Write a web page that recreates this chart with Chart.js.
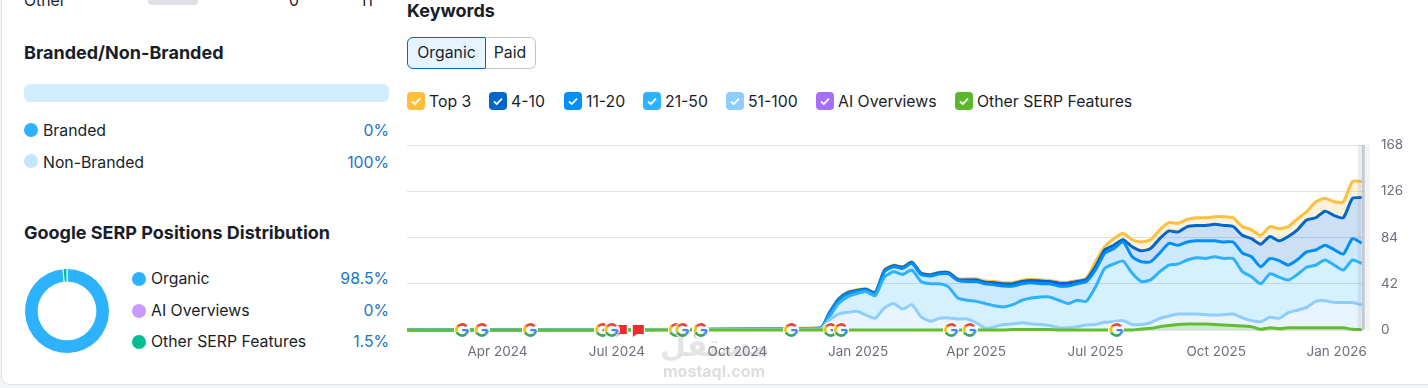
<!DOCTYPE html>
<html>
<head>
<meta charset="utf-8">
<script src="https://cdn.jsdelivr.net/npm/chart.js@4/dist/chart.umd.min.js"></script>
<style>
html, body { margin: 0; padding: 0; width: 1428px; height: 388px; overflow: hidden; background: #f4f5f9; font-family: Inter, sans-serif; color: #181e29; }
#card { position: absolute; left: 2px; top: -20px; width: 1500px; height: 404px; background: #fff; border-radius: 8px; box-shadow: 0 0 0 1px #e0e1e9; }
.t { position: absolute; white-space: nowrap; font-size: 15.8px; line-height: 20px; }
.h { position: absolute; white-space: nowrap; font-size: 18px; line-height: 24px; font-weight: 700; }
.v { position: absolute; right: 1039px; white-space: nowrap; font-size: 15.8px; line-height: 20px; color: #1a73c9; }
.dot { position: absolute; width: 14px; height: 14px; border-radius: 50%; }
.box { position: absolute; top: 92px; width: 18px; height: 18px; border-radius: 4px; }
.box svg { display: block; }
canvas { position: absolute; }
</style>
</head>
<body>
<div id="card"></div>

<div class="t" style="left:24px;top:-9px">Other</div>
<div style="position:absolute;left:148px;top:-5px;width:50px;height:10px;border-radius:4px;background:#dfe1e6"></div>
<div class="t" style="left:289px;top:-9px">0</div>
<div class="t" style="left:360px;top:-9px">11</div>

<div class="h" style="left:24px;top:41px">Branded/Non-Branded</div>
<div style="position:absolute;left:24px;top:84px;width:365px;height:18px;border-radius:6px;background:#d1edff"></div>
<div class="dot" style="left:24px;top:123px;background:#2db2ff"></div>
<div class="t" style="left:43px;top:121px">Branded</div>
<div class="v" style="top:121px">0%</div>
<div class="dot" style="left:24px;top:154px;background:#c3e6ff"></div>
<div class="t" style="left:43px;top:153px">Non-Branded</div>
<div class="v" style="top:153px">100%</div>

<div class="h" style="left:24px;top:221px">Google SERP Positions Distribution</div>
<canvas id="donut" width="86" height="86" style="left:24px;top:268px"></canvas>
<div class="dot" style="left:132px;top:272px;background:#2db2ff"></div>
<div class="t" style="left:151px;top:269px">Organic</div>
<div class="v" style="top:269px">98.5%</div>
<div class="dot" style="left:132px;top:304px;background:#c99bff"></div>
<div class="t" style="left:151px;top:301px">AI Overviews</div>
<div class="v" style="top:301px">0%</div>
<div class="dot" style="left:132px;top:335px;background:#00bf8f"></div>
<div class="t" style="left:151px;top:332px">Other SERP Features</div>
<div class="v" style="top:332px">1.5%</div>

<div class="h" style="left:407px;top:-1px">Keywords</div>
<div style="position:absolute;left:407px;top:37px;width:77px;height:30px;border:1px solid #0066cc;border-radius:6px 0 0 6px;background:#e6f4ff;text-align:center;font-size:15.8px;line-height:30px">Organic</div>
<div style="position:absolute;left:485px;top:37px;width:50px;height:30px;border:1px solid #c1c4cf;border-left:none;border-radius:0 6px 6px 0;text-align:center;font-size:15.8px;line-height:30px">Paid</div>
<div id="legend"></div>

<canvas id="chart" width="1000" height="251" style="left:407px;top:119px"></canvas>

<div style="position:absolute;left:660px;top:326px;width:106px;text-align:center;font-family:'DejaVu Sans',sans-serif;font-size:30px;line-height:40px;font-weight:700;color:rgba(120,120,125,.2)">مستقل</div>
<div style="position:absolute;left:663px;top:361px;font-size:16px;line-height:20px;font-weight:700;color:rgba(120,120,125,.25)">mostaql.com</div>

<script>
var dates = ['2024-01-23',
  '2024-12-03','2024-12-10','2024-12-17','2024-12-24','2024-12-31',
  '2025-01-07','2025-01-14','2025-01-21','2025-01-28',
  '2025-02-04','2025-02-11','2025-02-18','2025-02-25',
  '2025-03-04','2025-03-11','2025-03-18','2025-03-25',
  '2025-04-01','2025-04-08','2025-04-15','2025-04-22','2025-04-29',
  '2025-05-06','2025-05-13','2025-05-20','2025-05-27',
  '2025-06-03','2025-06-10','2025-06-17','2025-06-24',
  '2025-07-01','2025-07-08','2025-07-15','2025-07-22','2025-07-29',
  '2025-08-05','2025-08-12','2025-08-19','2025-08-26',
  '2025-09-02','2025-09-09','2025-09-16','2025-09-23','2025-09-30',
  '2025-10-07','2025-10-14','2025-10-21','2025-10-28',
  '2025-11-04','2025-11-11','2025-11-18','2025-11-25',
  '2025-12-02','2025-12-09','2025-12-16','2025-12-23','2025-12-30',
  '2026-01-06','2026-01-13','2026-01-20'];

// cumulative values as they sit on the chart
var top3 = [0,
  2,16,28.5,34.5,36.5,37.5,34.5,54.5,59,57.5,62,52,50.5,52.5,52.5,46.5,46.5,46.5,44.5,44,43,43,45,46,45.5,45,43.5,43.5,45,47,62,
  75.7,83,88,82,80,82,91,97.5,97,100.5,102,102,103,103,102,94,91,86,94,92,94,101,107.5,116.5,119.6,116.5,116.5,135,135];
var top10 = [0,
  1.7,15.5,28,34,36,37,34,54,58.5,57,61.5,51.5,50,52,52,46,45.5,45.5,43.5,43,42,42,44,45,44.5,44,42.5,42.5,44,46,57.5,
  72.7,77,82,75.7,72,74,83,90,89,94,95,95,96,95,94,86,83,78,85,81,85,91,100,102,108,104,102,119.6,120.5];
var top20 = [0,
  1.5,15,27,33,35,36,33,53,57.5,56,60.5,50.5,49,51,51,45,44,44,42,41,40,40,42,43,42,42,40,40,42,44,54.5,
  69.6,74,80,66.6,62,62,70,78.7,77,80,81,81,81,80,80,70,66.6,57.5,65,63,59,64,71,72.7,77,73,69,83,79];
var top50 = [0,
  1,12,24,30,33,35,31,48,53,50.5,54.5,44,42,42,39,29,27,26,24,22,21,23,27,29,30,30,27,24,27,26,39,
  56,60,62.7,51.5,44,45.5,53,59,60,63.6,65.7,65,66.6,65,65,53,48.4,42,51,48,45.4,50.5,57,59,63.6,59,54.5,63.6,60.5];
var top100 = [0,
  1,9,14.5,16,17,13.5,10.6,20,24,19,23,12,8,10.6,11,10,10,6.6,1.5,3,5,5.5,6.6,5.5,5,4,2,2,3,4.5,5,
  7,7.5,8.5,5,5,6.6,10.6,12.7,14.5,14.5,14.5,14,13.6,14,14.5,11,8.5,7.5,11.5,10.6,15.7,18,20.6,26,26.6,25,25,25,22.7];
var aiOverviews = [0,
  0,0,0,0,0,0,0,0,0,0,0,0,0,0,0,0,0,0,0,0,0,0,0,0,0,0,0,0,0,0,0,
  0,0,0,0,0,0,0,0,0,0,0,0,0,0,0,0,0,0,0,0,0,0,0,0,0,0,0,0,0];
var otherSerp = [0,
  0,0,0,0,0,0,0,0,0,0,0,0,0,0,0,0,0,0,0,0,0,0.5,0.5,0.5,0.5,0.5,0,0,0,0,0,
  0,0,0,0,1,1.5,3,4,5,5.5,5.5,5.5,5,4.5,4,3.6,3,0.6,2,1.2,2,2,2,2,2,2,2,0.6,0.3];

var googleUpdates = ['2024-03-05','2024-03-20','2024-04-26','2024-06-20','2024-06-27','2024-08-15','2024-08-20','2024-09-03','2024-11-11','2024-12-11','2024-12-19','2025-03-13','2025-03-27','2025-07-17'];
var flagEvents = ['2024-07-04','2024-07-17','2024-09-02'];

var tickDates = ['2024-04-01','2024-07-01','2024-10-01','2025-01-01','2025-04-01','2025-07-01','2025-10-01','2026-01-01'];
var tickLabels = ['Apr 2024','Jul 2024','Oct 2024','Jan 2025','Apr 2025','Jul 2025','Oct 2025','Jan 2026'];
var yTicks = [0,42,84,126,168];

var legendNames = ['Top 3','4-10','11-20','21-50','51-100','AI Overviews','Other SERP Features'];
var legendColors = ['#ffbf3e','#0066cc','#008ff8','#2db2ff','#8ecdff','#a56efc','#59b82a'];
var legendBoxLeft = [407,489,564,643,726,816,955];

var donutLabels = ['Organic','AI Overviews','Other SERP Features'];
var donutValues = [98.5,0,1.5];

function day(s) { return Date.parse(s) / 86400000; }
function points(series) {
  return dates.map(function (d, i) { return { x: day(d), y: series[i] }; });
}

// legend check boxes
var legendHtml = '';
legendNames.forEach(function (name, i) {
  legendHtml += '<div class="box" style="left:' + legendBoxLeft[i] + 'px;background:' + legendColors[i] + '">' +
    '<svg width="18" height="18"><path d="M5 9.5l2.8 2.6L13 6.6" fill="none" stroke="#fff" stroke-width="1.8"/></svg></div>' +
    '<div class="t" style="left:' + (legendBoxLeft[i] + 22) + 'px;top:92px">' + name + '</div>';
});
document.getElementById('legend').innerHTML = legendHtml;

function googleIcon() {
  var c = document.createElement('canvas');
  c.width = 16; c.height = 16;
  var g = c.getContext('2d');
  g.fillStyle = '#fff';
  g.beginPath(); g.arc(8, 8, 8, 0, Math.PI * 2); g.fill();
  g.lineWidth = 2.6;
  [['#ea4335', -2.5, -0.7], ['#fbbc05', -3.5, -2.4], ['#34a853', 0.8, 2.75], ['#4285f4', 0, 0.8]].forEach(function (a) {
    g.strokeStyle = a[0];
    g.beginPath();
    g.arc(8, 8, 5.6, a[1], a[2]);
    g.stroke();
  });
  g.fillStyle = '#4285f4';
  g.fillRect(8, 6.9, 5.8, 2.3);
  return c;
}

function flagIcon() {
  var c = document.createElement('canvas');
  c.width = 14; c.height = 16;
  var g = c.getContext('2d');
  g.fillStyle = '#fff';
  g.fillRect(0, 0, 14, 16);
  g.fillStyle = '#ee2c2c';
  g.beginPath();
  g.moveTo(2, 3); g.lineTo(13, 3); g.lineTo(13, 12); g.lineTo(6, 12); g.lineTo(2, 15);
  g.closePath();
  g.fill();
  return c;
}

function lineSet(label, series, color, fill, area, order, width) {
  return {
    label: label,
    data: points(series),
    borderColor: color,
    backgroundColor: area,
    borderWidth: width,
    pointRadius: 0,
    tension: 0.2,
    fill: fill,
    order: order,
    clip: false
  };
}

// grey band over the latest, still incomplete period
var shadePlugin = {
  id: 'shade',
  afterDatasetsDraw: function (chart) {
    var x = chart.scales.x, a = chart.chartArea, c = chart.ctx;
    var from = x.getPixelForValue(day('2026-01-17'));
    c.save();
    c.fillStyle = 'rgba(120,135,160,0.16)';
    c.fillRect(from, a.top, a.right - from + 1, a.bottom - a.top);
    c.fillStyle = 'rgba(150,160,175,0.45)';
    c.fillRect(a.right - 1, a.top, 3, a.bottom - a.top);
    c.fillStyle = 'rgba(150,160,175,0.12)';
    c.fillRect(a.right + 2, a.top, 5, a.bottom - a.top);
    c.restore();
  }
};

new Chart(document.getElementById('chart'), {
  type: 'line',
  plugins: [shadePlugin],
  data: {
    datasets: [
      lineSet('Top 3', top3, '#ffbf3e', '+1', 'rgba(255,191,62,0.2)', 7, 3),
      lineSet('4-10', top10, '#0066cc', '+1', 'rgba(0,102,204,0.2)', 6, 3),
      lineSet('11-20', top20, '#008ff8', '+1', 'rgba(0,143,248,0.2)', 5, 3),
      lineSet('21-50', top50, '#2db2ff', '+1', 'rgba(45,178,255,0.2)', 4, 3),
      lineSet('51-100', top100, '#8ecdff', '+1', 'rgba(142,205,255,0.2)', 3, 3),
      lineSet('AI Overviews', aiOverviews, '#a56efc', false, 'transparent', 2, 0),
      lineSet('Other SERP Features', otherSerp, '#63bd2f', 'origin', 'rgba(89,184,42,0.2)', 1, 3),
      {
        label: 'Flags',
        data: flagEvents.map(function (d) { return { x: day(d), y: 0 }; }),
        showLine: false,
        pointStyle: flagIcon(),
        order: 0,
        clip: false
      },
      {
        label: 'Google updates',
        data: googleUpdates.map(function (d) { return { x: day(d), y: 0 }; }),
        showLine: false,
        pointStyle: googleIcon(),
        order: -1,
        clip: false
      }
    ]
  },
  options: {
    responsive: false,
    animation: false,
    layout: { autoPadding: false },
    plugins: { legend: { display: false }, tooltip: { enabled: false } },
    scales: {
      x: {
        type: 'linear',
        min: day('2024-01-23'),
        max: day('2026-01-21'),
        grid: { display: false },
        border: { display: false },
        afterBuildTicks: function (axis) {
          axis.ticks = tickDates.map(function (d) { return { value: day(d) }; });
        },
        afterFit: function (axis) { axis.height = 40; },
        ticks: {
          autoSkip: false,
          maxRotation: 0,
          padding: 6,
          color: '#6c6e79',
          font: { family: 'Inter', size: 13.5 },
          callback: function (value, index) { return tickLabels[index]; }
        }
      },
      y: {
        position: 'right',
        min: 0,
        max: 168,
        grid: { color: '#e0e1e9', drawTicks: false },
        border: { display: false },
        afterBuildTicks: function (axis) {
          axis.ticks = yTicks.map(function (v) { return { value: v }; });
        },
        afterFit: function (axis) { axis.width = 44; },
        ticks: {
          padding: 18,
          color: '#6c6e79',
          font: { family: 'Inter', size: 13.5 }
        }
      }
    }
  }
});

new Chart(document.getElementById('donut'), {
  type: 'doughnut',
  data: {
    labels: donutLabels,
    datasets: [{
      data: donutValues,
      backgroundColor: ['#2db2ff', '#c99bff', '#00bf8f'],
      borderColor: '#fff',
      borderWidth: 1
    }]
  },
  options: {
    responsive: false,
    animation: false,
    cutout: '68%',
    plugins: { legend: { display: false }, tooltip: { enabled: false } }
  }
});
</script>
</body>
</html>
